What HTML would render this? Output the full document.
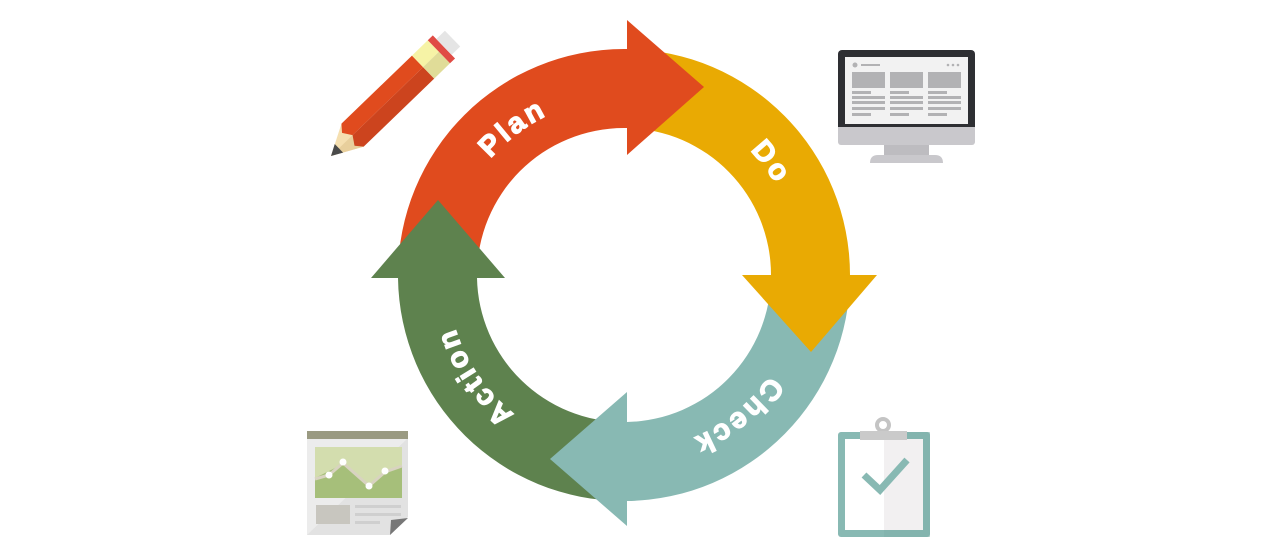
<!DOCTYPE html>
<html><head><meta charset="utf-8"><style>
html,body{margin:0;padding:0;background:#fff;}
svg{display:block;}
text{font-family:"Liberation Sans",sans-serif;font-weight:bold;fill:#fff;stroke:#fff;stroke-width:1.2px;font-size:29px;letter-spacing:3px;}
</style></head><body>
<svg width="1280" height="560" viewBox="0 0 1280 560" xmlns="http://www.w3.org/2000/svg">
<path d="M398,275 A226,226 0 0 1 624,49 L627,49 L627,128 L624,128 A147,147 0 0 0 477,275 Z" fill="#e04b1e"/>
<path d="M627,49 A226,226 0 0 1 850,275 L771,275 A147,147 0 0 0 627,128 Z" fill="#e9aa03"/>
<path d="M850,275 A226,226 0 0 1 627,501 L627,422 A147,147 0 0 0 771,275 Z" fill="#88b9b3"/>
<path d="M627,501 L624,501 A226,226 0 0 1 398,278 L477,278 A147,147 0 0 0 624,422 L627,422 Z" fill="#5e824e"/>
<polygon points="627,20 704,87 627,155" fill="#e04b1e"/>
<polygon points="742,275 877,275 811,352" fill="#e9aa03"/>
<polygon points="627,392 627,526 550,459" fill="#88b9b3"/>
<polygon points="371,278 505,278 438,200" fill="#5e824e"/>
<defs><path id="c" d="M801,275 A177,177 0 1 1 447,275 A177,177 0 1 1 801,275"/></defs>
<text><textPath href="#c" startOffset="64.7%" text-anchor="middle">Plan</textPath></text>
<text><textPath href="#c" startOffset="89.6%" text-anchor="middle">Do</textPath></text>
<text><textPath href="#c" startOffset="14.2%" text-anchor="middle">Check</textPath></text>
<text><textPath href="#c" startOffset="40.5%" text-anchor="middle">Action</textPath></text>
<g transform="translate(331,156) rotate(-44)">
<polygon points="0,0 30,-16 30,16" fill="#f5dfb0"/>
<polygon points="0,0 30,0 30,16" fill="#e8cf9c"/>
<polygon points="0,0 11,-6 11,6" fill="#4a4a4a"/>
<polygon points="30,-16 128,-16 128,0 30,0 24,-9" fill="#e04b1e"/>
<polygon points="30,0 128,0 128,16 30,16 24,9" fill="#cc441e"/>
<rect x="128" y="-16" width="22" height="16" fill="#f6f3a6"/>
<rect x="128" y="0" width="22" height="16" fill="#e0dc98"/>
<rect x="150" y="-16" width="7" height="32" fill="#e04b44"/>
<rect x="157" y="-11" width="12" height="22" fill="#e5e5e5"/>
</g>
<rect x="838" y="50" width="137" height="84" rx="4" fill="#2e2f33"/>
<rect x="838" y="127" width="137" height="18" rx="3" fill="#c9c8cc"/>
<rect x="838" y="127" width="137" height="5" fill="#c9c8cc"/>
<rect x="884" y="145" width="45" height="10" fill="#bdbcc0"/>
<path d="M870,163 Q870,155 878,155 L935,155 Q943,155 943,163 Z" fill="#c9c8cc"/>
<rect x="845" y="57" width="123" height="67" fill="#f2f2f2"/>
<circle cx="855" cy="65" r="2.5" fill="#b2b2b4"/>
<rect x="861" y="64" width="19" height="2" fill="#b2b2b4"/>
<circle cx="948" cy="65" r="1.3" fill="#b2b2b4"/><circle cx="953" cy="65" r="1.3" fill="#b2b2b4"/><circle cx="958" cy="65" r="1.3" fill="#b2b2b4"/>
<g fill="#b2b2b4">
<rect x="852" y="72" width="33" height="16"/><rect x="890" y="72" width="33" height="16"/><rect x="928" y="72" width="33" height="16"/>
<rect x="852" y="91" width="19" height="3"/><rect x="890" y="91" width="19" height="3"/><rect x="928" y="91" width="19" height="3"/>
<rect x="852" y="96" width="33" height="3"/><rect x="890" y="96" width="33" height="3"/><rect x="928" y="96" width="33" height="3"/>
<rect x="852" y="101" width="33" height="3"/><rect x="890" y="101" width="33" height="3"/><rect x="928" y="101" width="33" height="3"/>
<rect x="852" y="107" width="33" height="3"/><rect x="890" y="107" width="33" height="3"/><rect x="928" y="107" width="33" height="3"/>
<rect x="852" y="113" width="19" height="3"/><rect x="890" y="113" width="19" height="3"/><rect x="928" y="113" width="19" height="3"/>
</g>
<rect x="838" y="432" width="92" height="105" rx="3" fill="#88b9b3"/>
<rect x="884" y="432" width="46" height="105" fill="#7eb0aa" opacity="0.5"/>
<rect x="845" y="439" width="39" height="91" fill="#ffffff"/>
<rect x="884" y="439" width="39" height="91" fill="#f2f0f1"/>
<circle cx="883" cy="425" r="6" fill="none" stroke="#c4c4c4" stroke-width="4"/>
<rect x="860" y="431" width="47" height="9" fill="#cacaca"/>
<polyline points="864,475 880,490 907,460" fill="none" stroke="#88b9b3" stroke-width="7"/>
<polygon points="307,438 408,438 408,517 390,535 307,535" fill="#ececec"/>
<polygon points="307,535 408,438 408,517 390,535" fill="#e2e2e2"/>
<rect x="307" y="431" width="101" height="8" fill="#9a9a82"/>
<rect x="315" y="447" width="87" height="51" fill="#d3ddae"/>
<polygon points="315,478 343,464 369,487 385,473 402,467 402,498 315,498" fill="#a6bf7a"/>
<polyline points="315,479 329,475 343,463 369,486 385,472 402,466" fill="none" stroke="#d8d3c0" stroke-width="3"/>
<g fill="#fff"><circle cx="329" cy="475" r="3.5"/><circle cx="343" cy="462" r="3.5"/><circle cx="369" cy="486" r="3.5"/><circle cx="385" cy="471" r="3.5"/></g>
<rect x="316" y="505" width="34" height="19" fill="#c8c6bf"/>
<rect x="355" y="505" width="46" height="3" fill="#cfcfcf"/>
<rect x="355" y="513" width="46" height="3" fill="#cfcfcf"/>
<rect x="355" y="521" width="25" height="3" fill="#cfcfcf"/>
<polygon points="408,518 391,520 390,535" fill="#777"/>
</svg>
</body></html>
